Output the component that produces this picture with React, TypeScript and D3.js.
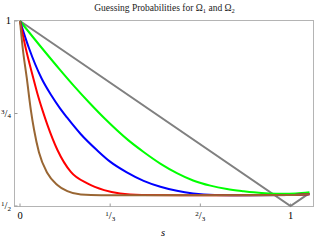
import React from 'react';
import * as d3 from 'd3';

// readings of the curves, [s, probability]
const grayLine = [[0, 1], [1, 0.5], [1.07, 0.535]];
const greenLine = [
  [0, 1], [0.083, 0.925], [0.148, 0.868], [0.2, 0.824], [0.259, 0.777], [0.315, 0.735],
  [0.4, 0.678], [0.457, 0.646], [0.52, 0.614], [0.58, 0.589], [0.64, 0.569],
  [0.704, 0.555], [0.765, 0.546], [0.827, 0.54], [0.864, 0.537], [0.92, 0.534], [0.97, 0.533],
  [1.02, 0.534], [1.07, 0.537],
];
const blueLine = [
  [0, 1], [0.033, 0.927], [0.079, 0.846], [0.115, 0.8], [0.148, 0.764], [0.173, 0.74],
  [0.225, 0.694], [0.286, 0.65], [0.333, 0.62], [0.395, 0.591], [0.457, 0.568], [0.519, 0.552],
  [0.58, 0.541], [0.64, 0.534], [0.72, 0.53], [0.85, 0.529], [1.0, 0.53], [1.07, 0.532],
];
const redLine = [
  [0, 1], [0.021, 0.927], [0.049, 0.846], [0.065, 0.802], [0.083, 0.759], [0.101, 0.72],
  [0.138, 0.652], [0.188, 0.592], [0.249, 0.561], [0.311, 0.543], [0.37, 0.534], [0.45, 0.53],
  [0.6, 0.529], [0.8, 0.529], [1.0, 0.53], [1.07, 0.532],
];
const brownLine = [
  [0, 1], [0.01, 0.927], [0.025, 0.846], [0.04, 0.76], [0.052, 0.706], [0.07, 0.645],
  [0.101, 0.589], [0.138, 0.557], [0.175, 0.54], [0.225, 0.531], [0.3, 0.529], [0.5, 0.529],
  [0.8, 0.529], [1.0, 0.53], [1.07, 0.532],
];

const series = [
  { data: grayLine, color: '#808080', smooth: false },
  { data: greenLine, color: '#00ff00', smooth: true },
  { data: blueLine, color: '#0000ff', smooth: true },
  { data: redLine, color: '#ff0000', smooth: true },
  { data: brownLine, color: '#996633', smooth: true },
];

const xTicks = [0, 1 / 3, 2 / 3, 1];
const xTickLabels = [['0'], ['1', '3'], ['2', '3'], ['1']];
const yTicks = [0.5, 0.75, 1];
const yTickLabels = [['1', '2'], ['3', '4'], ['1']];

const W = 316;
const H = 244;

const Frac = ({ parts, x, y, anchor }) => {
  if (parts.length === 1) {
    return (
      <text x={x} y={y} textAnchor={anchor} fontSize={10.5}>{parts[0]}</text>
    );
  }
  return (
    <text x={x} y={y} textAnchor={anchor} fontSize={10.5}>
      <tspan fontSize={7} dy={-3}>{parts[0]}</tspan>
      <tspan fontSize={10.5} dy={3}>/</tspan>
      <tspan fontSize={7} dy={1.5}>{parts[1]}</tspan>
    </text>
  );
};

export default function App() {
  const x = d3.scaleLinear().domain([0, 1]).range([20, 290.5]);
  const y = d3.scaleLinear().domain([0.5, 1]).range([206, 21]);
  const left = 14.5, right = 313.5, top = 20.5, bottom = 206.5;

  const lineSmooth = d3.line().x((d) => x(d[0])).y((d) => y(d[1])).curve(d3.curveMonotoneX);
  const lineStraight = d3.line().x((d) => x(d[0])).y((d) => y(d[1]));

  return (
    <div style={{ position: 'fixed', left: 0, top: 0 }}>
      <svg width={W} height={H} fontFamily="'Liberation Serif', 'DejaVu Serif', serif" style={{ display: 'block', background: '#fff' }}>
        <text x={164.5} y={11} textAnchor="middle" fontSize={9.5} fill="#222">
          Guessing Probabilities for Ω<tspan fontSize={6.5} dy={2}>1</tspan>
          <tspan dy={-2}> and Ω</tspan><tspan fontSize={6.5} dy={2}>2</tspan>
        </text>

        <rect x={left} y={top} width={right - left} height={bottom - top} fill="none" stroke="#b4b4b4" strokeWidth={1} />

        {xTicks.map((t, i) => (
          <g key={'x' + i}>
            <line x1={x(t)} x2={x(t)} y1={bottom} y2={bottom - 3} stroke="#999" />
            <Frac parts={xTickLabels[i]} x={x(t)} y={219} anchor="middle" />
          </g>
        ))}
        {yTicks.map((t, i) => (
          <g key={'y' + i}>
            <line x1={left} x2={left + 3} y1={y(t)} y2={y(t)} stroke="#999" />
            <Frac parts={yTickLabels[i]} x={11} y={y(t) + 3} anchor="end" />
          </g>
        ))}

        {series.map((s, i) => (
          <path key={i} d={(s.smooth ? lineSmooth : lineStraight)(s.data)} fill="none" stroke={s.color} strokeWidth={2} />
        ))}

        <text x={163} y={236} textAnchor="middle" fontSize={10.5} fontStyle="italic">s</text>
      </svg>
    </div>
  );
}
